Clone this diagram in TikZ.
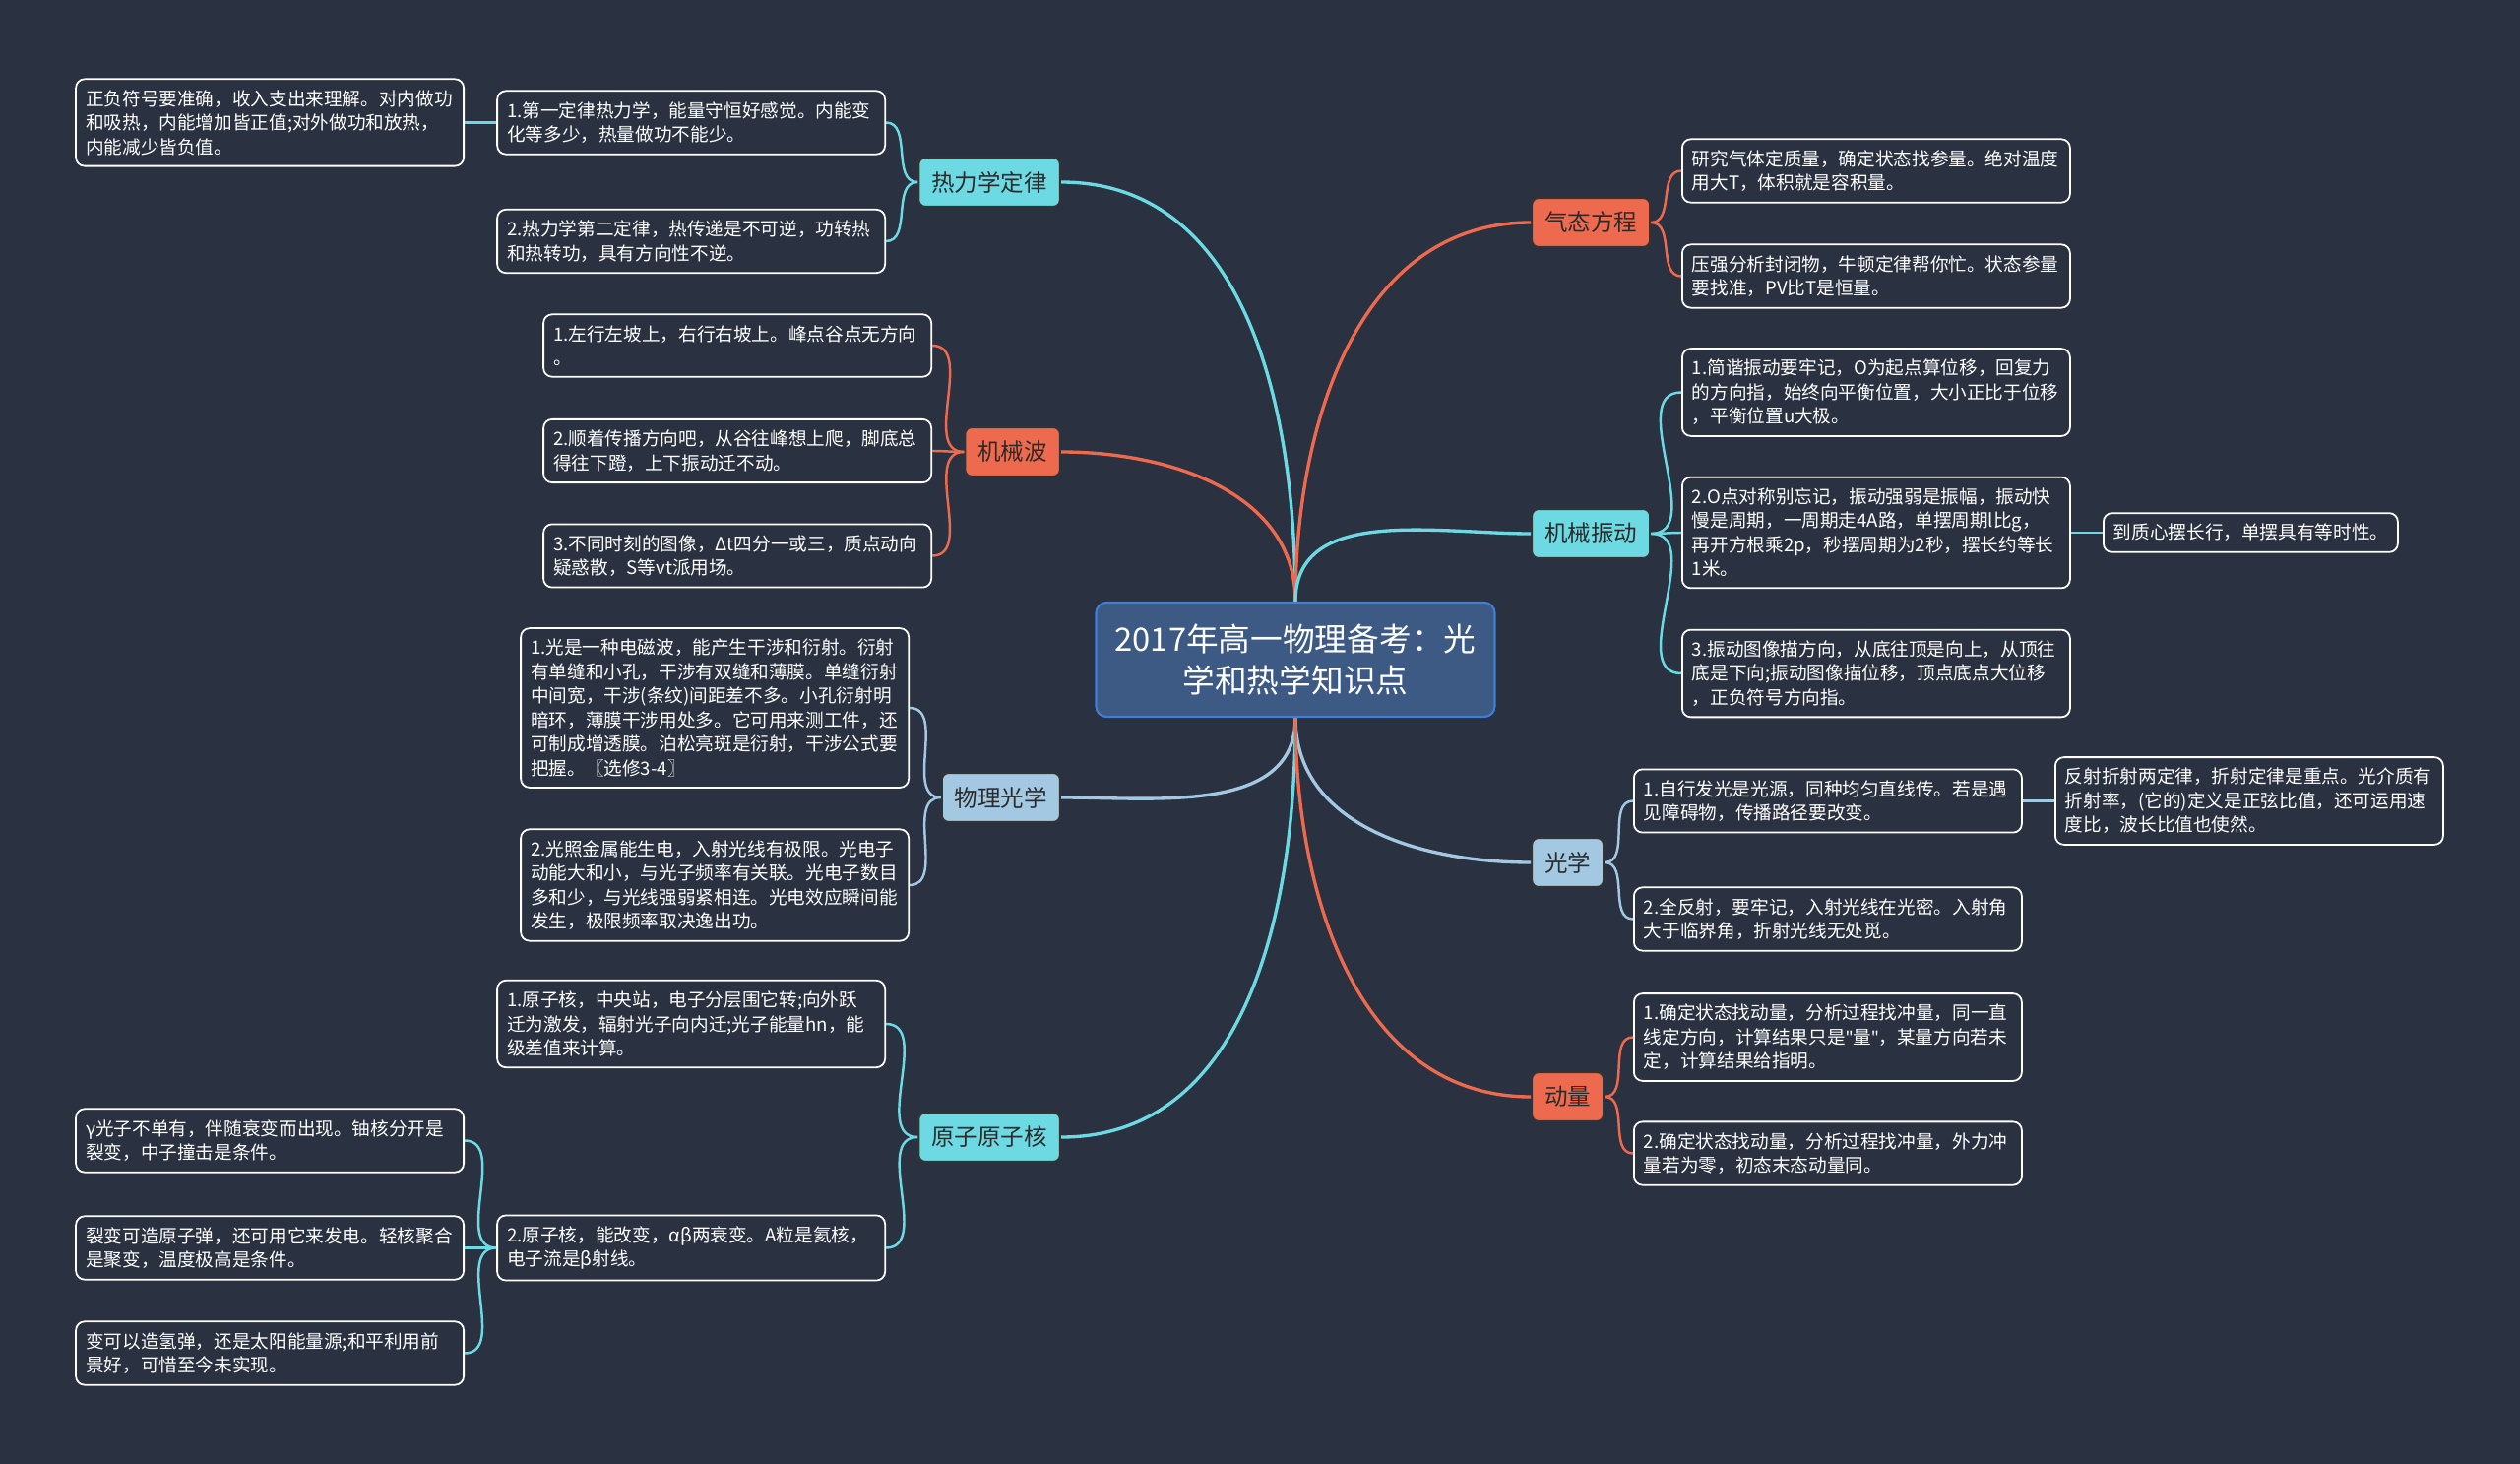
\documentclass[tikz,border=0pt]{standalone}
\usepackage{fontspec}
\setmainfont{Noto Sans CJK SC}
\newfontfamily\latinfont{Noto Sans}
\definecolor{bgcol}{HTML}{2A3140}
\definecolor{orangecol}{HTML}{EE6A4F}
\definecolor{cyancol}{HTML}{6DDAE3}
\definecolor{paleblue}{HTML}{A3C8E2}
\definecolor{rootfill}{HTML}{3D5A85}
\definecolor{rootline}{HTML}{3F7FD8}
\definecolor{branchtext}{HTML}{2B2B2B}

\begin{document}
\begin{tikzpicture}[
  root/.style={draw=rootline, fill=rootfill, line width=0.6pt, rounded corners=3pt,
    text=white, font=\fontsize{9.3}{12}\selectfont, align=center,
    minimum width=4.05cm, minimum height=1.16cm},
  branch/.style={draw=black!80, line width=0.6pt, rounded corners=2pt, text=branchtext,
    font=\fontsize{6.7}{8}\selectfont, inner xsep=0.13cm, minimum height=0.5cm},
  leaf/.style={draw=white, fill=bgcol, line width=0.5pt, rounded corners=2.5pt,
    text=white, font=\fontsize{5.3}{6.97}\selectfont, align=left,
    text width=3.74cm, inner xsep=0.1cm, inner ysep=0.11cm},
  link/.style={line width=0.95pt},
  twig/.style={line width=0.7pt}
]
  \fill[bgcol] (0,0) rectangle (25.6,-14.87);
  \useasboundingbox (0,0) rectangle (25.6,-14.87);

  % centre
  \node[root] (center) at (13.16,-6.70) {2017年高一物理备考：光\\学和热学知识点};

  % left branches
  \node[branch, fill=cyancol, anchor=east] (relixue) at (10.78,-1.85) {热力学定律};
  \node[branch, fill=orangecol, anchor=east] (jixiebo) at (10.78,-4.59) {机械波};
  \node[branch, fill=paleblue, anchor=east] (wuliguang) at (10.78,-8.10) {物理光学};
  \node[branch, fill=cyancol, anchor=east] (yuanzi) at (10.78,-11.55) {原子原子核};
  % right branches
  \node[branch, fill=orangecol, anchor=west] (qitai) at (15.55,-2.26) {气态方程};
  \node[branch, fill=cyancol, anchor=west] (zhendong) at (15.55,-5.42) {机械振动};
  \node[branch, fill=paleblue, anchor=west] (guangxue) at (15.55,-8.76) {光学};
  \node[branch, fill=orangecol, anchor=west] (dongliang) at (15.55,-11.14) {动量};

  % thermodynamics
  \node[leaf, anchor=east] (re1) at (9.00,-1.245) {1.第一定律热力学，能量守恒好感觉。内能变\\化等多少，热量做功不能少。};
  \node[leaf, anchor=east] (re2) at (9.00,-2.45) {2.热力学第二定律，热传递是不可逆，功转热\\和热转功，具有方向性不逆。};
  \node[leaf, anchor=east] (re0) at (4.72,-1.245) {正负符号要准确，收入支出来理解。对内做功\\和吸热，内能增加皆正值;对外做功和放热，\\内能减少皆负值。};

  % mechanical waves
  \node[leaf, anchor=east] (bo1) at (9.47,-3.51) {1.左行左坡上，右行右坡上。峰点谷点无方向\\。};
  \node[leaf, anchor=east] (bo2) at (9.47,-4.58) {2.顺着传播方向吧，从谷往峰想上爬，脚底总\\得往下蹬，上下振动迁不动。};
  \node[leaf, anchor=east] (bo3) at (9.47,-5.645) {3.不同时刻的图像，Δt四分一或三，质点动向\\疑惑散，S等vt派用场。};

  % physical optics
  \node[leaf, anchor=east] (wg1) at (9.24,-7.19) {1.光是一种电磁波，能产生干涉和衍射。衍射\\有单缝和小孔，干涉有双缝和薄膜。单缝衍射\\中间宽，干涉(条纹)间距差不多。小孔衍射明\\暗环，薄膜干涉用处多。它可用来测工件，还\\可制成增透膜。泊松亮斑是衍射，干涉公式要\\把握。〖选修3-4〗};
  \node[leaf, anchor=east] (wg2) at (9.24,-8.99) {2.光照金属能生电，入射光线有极限。光电子\\动能大和小，与光子频率有关联。光电子数目\\多和少，与光线强弱紧相连。光电效应瞬间能\\发生，极限频率取决逸出功。};

  % atoms and nuclei
  \node[leaf, anchor=east] (yz1) at (9.00,-10.40) {1.原子核，中央站，电子分层围它转;向外跃\\迁为激发，辐射光子向内迁;光子能量hn，能\\级差值来计算。};
  \node[leaf, anchor=east] (yz2) at (9.00,-12.675) {2.原子核，能改变，αβ两衰变。A粒是氦核，\\电子流是β射线。};
  \node[leaf, anchor=east] (yz3) at (4.72,-11.585) {γ光子不单有，伴随衰变而出现。铀核分开是\\裂变，中子撞击是条件。};
  \node[leaf, anchor=east] (yz4) at (4.72,-12.675) {裂变可造原子弹，还可用它来发电。轻核聚合\\是聚变，温度极高是条件。};
  \node[leaf, anchor=east] (yz5) at (4.72,-13.745) {变可以造氢弹，还是太阳能量源;和平利用前\\景好，可惜至今未实现。};

  % gas equation
  \node[leaf, anchor=west] (qt1) at (17.08,-1.735) {研究气体定质量，确定状态找参量。绝对温度\\用大T，体积就是容积量。};
  \node[leaf, anchor=west] (qt2) at (17.08,-2.805) {压强分析封闭物，牛顿定律帮你忙。状态参量\\要找准，PV比T是恒量。};

  % mechanical vibration
  \node[leaf, anchor=west] (zd1) at (17.08,-3.985) {1.简谐振动要牢记，O为起点算位移，回复力\\的方向指，始终向平衡位置，大小正比于位移\\，平衡位置u大极。};
  \node[leaf, anchor=west] (zd2) at (17.08,-5.41) {2.O点对称别忘记，振动强弱是振幅，振动快\\慢是周期，一周期走4A路，单摆周期l比g，\\再开方根乘2p，秒摆周期为2秒，摆长约等长\\1米。};
  \node[leaf, anchor=west] (zd3) at (17.08,-6.84) {3.振动图像描方向，从底往顶是向上，从顶往\\底是下向;振动图像描位移，顶点底点大位移\\，正负符号方向指。};
  \node[leaf, anchor=west, text width=2.79cm] (zd4) at (21.36,-5.41) {到质心摆长行，单摆具有等时性。};

  % optics
  \node[leaf, anchor=west] (gx1) at (16.59,-8.135) {1.自行发光是光源，同种均匀直线传。若是遇\\见障碍物，传播路径要改变。};
  \node[leaf, anchor=west] (gx2) at (16.59,-9.335) {2.全反射，要牢记，入射光线在光密。入射角\\大于临界角，折射光线无处觅。};
  \node[leaf, anchor=west] (gx3) at (20.87,-8.135) {反射折射两定律，折射定律是重点。光介质有\\折射率，(它的)定义是正弦比值，还可运用速\\度比，波长比值也使然。};

  % momentum
  \node[leaf, anchor=west] (dl1) at (16.59,-10.535) {1.确定状态找动量，分析过程找冲量，同一直\\线定方向，计算结果只是{\latinfont\symbol{34}}量{\latinfont\symbol{34}}，某量方向若未\\定，计算结果给指明。};
  \node[leaf, anchor=west] (dl2) at (16.59,-11.715) {2.确定状态找动量，分析过程找冲量，外力冲\\量若为零，初态末态动量同。};

  % centre to branches
  \foreach \b/\c in {relixue/cyancol, jixiebo/orangecol}
    \draw[link,\c] (center.north) to[out=90,in=0] (\b.east);
  \foreach \b/\c in {wuliguang/paleblue, yuanzi/cyancol}
    \draw[link,\c] (center.south) to[out=-90,in=0] (\b.east);
  \foreach \b/\c in {qitai/orangecol, zhendong/cyancol}
    \draw[link,\c] (center.north) to[out=90,in=180] (\b.west);
  \foreach \b/\c in {guangxue/paleblue, dongliang/orangecol}
    \draw[link,\c] (center.south) to[out=-90,in=180] (\b.west);

  % branches to leaves
  \foreach \b/\l/\c in {relixue/re1/cyancol, relixue/re2/cyancol,
      jixiebo/bo1/orangecol, jixiebo/bo2/orangecol, jixiebo/bo3/orangecol,
      wuliguang/wg1/paleblue, wuliguang/wg2/paleblue,
      yuanzi/yz1/cyancol, yuanzi/yz2/cyancol,
      yz2/yz3/cyancol, yz2/yz4/cyancol, yz2/yz5/cyancol}
    \draw[twig,\c] (\b.west) to[out=180,in=0] (\l.east);
  \foreach \b/\l/\c in {qitai/qt1/orangecol, qitai/qt2/orangecol,
      zhendong/zd1/cyancol, zhendong/zd2/cyancol, zhendong/zd3/cyancol,
      guangxue/gx1/paleblue, guangxue/gx2/paleblue,
      dongliang/dl1/orangecol, dongliang/dl2/orangecol}
    \draw[twig,\c] (\b.east) to[out=0,in=180] (\l.west);
  \draw[twig,cyancol] (re1.west) -- (re0.east);
  \draw[twig,cyancol] (zd2.east) -- (zd4.west);
  \draw[twig,paleblue] (gx1.east) -- (gx3.west);
\end{tikzpicture}
\end{document}
